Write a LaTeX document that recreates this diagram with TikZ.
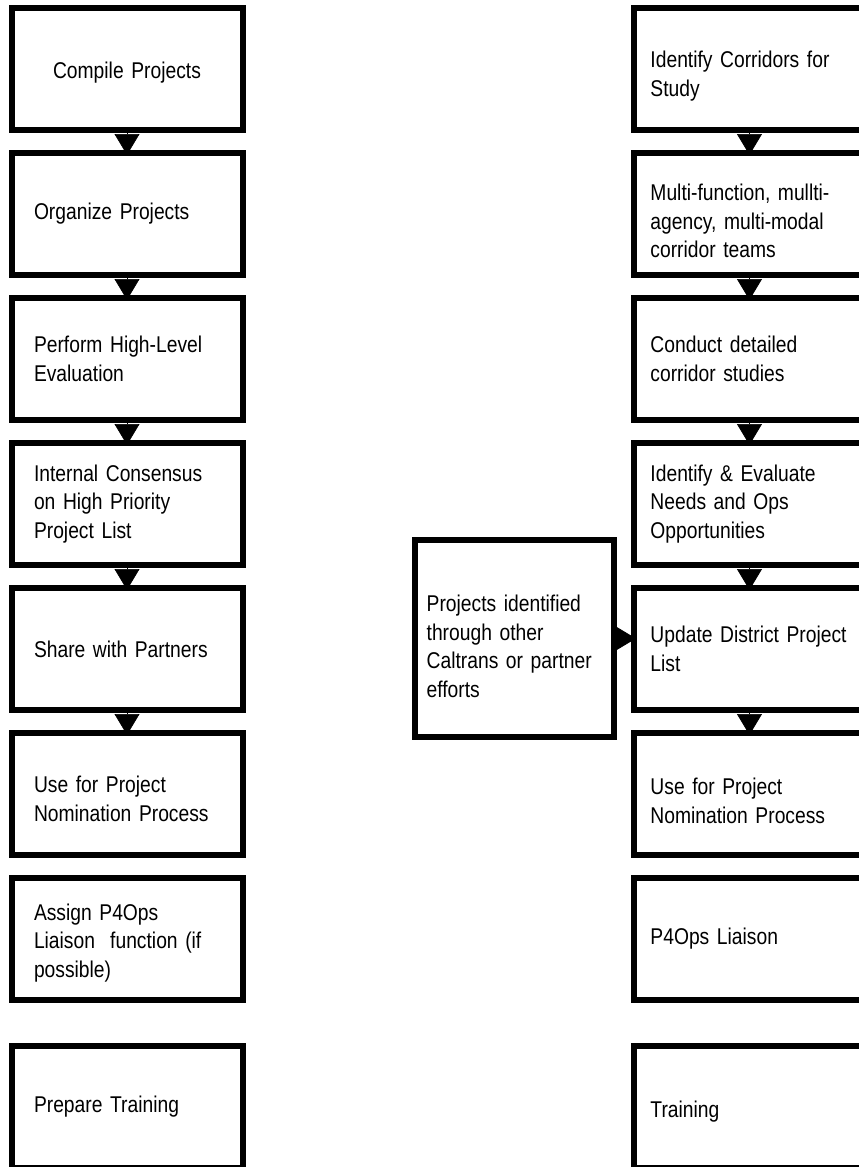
\documentclass[tikz,border=0pt]{standalone}
\usepackage{fontspec}
\setmainfont{Liberation Sans}[FakeStretch=0.845, WordSpace=0.7]
\usepackage{tikz}
\usetikzlibrary{arrows.meta}
\tikzstyle{process} = [rectangle, minimum width=173.25pt, minimum height=91.5pt, text width=139.5pt, align=left, draw=black, line width=4.5pt, font=\fontsize{17.1}{21.4}\selectfont]
\tikzstyle{rprocess} = [process, text width=148.5pt]
\tikzstyle{source} = [process, minimum width=149.25pt, minimum height=147.75pt, text width=131.7pt]
\tikzstyle{arrow} = [line width=0.5pt, -{Triangle[length=15.75pt, width=18.75pt]}, shorten >=-3.75pt]

\begin{document}
\begin{tikzpicture}[x=0.75pt, y=-0.75pt, node distance=108.75pt]
    \useasboundingbox (0,0) rectangle (858,1167);
    % left column
    \node (cmp) [process, align=center] at (127,69) {\rule{0pt}{18.5pt}Compile Projects};
    \node (org) [process, below of=cmp] {Organize Projects};
    \node (eval) [process, below of=org] {Perform High-Level\\Evaluation};
    \node (cons) [process, below of=eval] {Internal Consensus\\on High Priority\\Project List};
    \node (share) [process, below of=cons] {Share with Partners};
    \node (nom) [process, below of=share] {\rule{0pt}{20pt}Use for Project\\Nomination Process};
    \node (liaison) [process, below of=nom] {\rule{0pt}{18.5pt}Assign P4Ops\\Liaison~ function (if\\possible)};
    \node (train) [process, below of=liaison, yshift=-17.25pt] {Prepare Training};
    % right column
    \node (corr) [rprocess, right of=cmp, xshift=358.1pt] {\rule{0pt}{23pt}Identify Corridors for\\Study};
    \node (teams) [rprocess, below of=corr] {\rule{0pt}{23pt}Multi-function, mullti-\\agency, multi-modal\\corridor teams};
    \node (study) [rprocess, below of=teams] {Conduct detailed\\corridor studies};
    \node (needs) [rprocess, below of=study] {Identify \& Evaluate\\Needs and Ops\\Opportunities};
    \node (upd) [rprocess, below of=needs] {\mbox{Update District Project}\\List};
    \node (rnom) [rprocess, below of=upd] {\rule{0pt}{23pt}Use for Project\\Nomination Process};
    \node (rliaison) [rprocess, below of=rnom] {P4Ops Liaison};
    \node (rtrain) [rprocess, below of=rliaison, yshift=-17.25pt] {\rule{0pt}{20pt}Training};
    \node (other) [source, left of=upd, xshift=-67.5pt, yshift=7.875pt] {\rule{0pt}{24.5pt}Projects identified\\through other\\Caltrans or partner\\efforts};

    \draw [arrow] (cmp) -- (org);
    \draw [arrow] (org) -- (eval);
    \draw [arrow] (eval) -- (cons);
    \draw [arrow] (cons) -- (share);
    \draw [arrow] (share) -- (nom);
    \draw [arrow] (corr) -- (teams);
    \draw [arrow] (teams) -- (study);
    \draw [arrow] (study) -- (needs);
    \draw [arrow] (needs) -- (upd);
    \draw [arrow] (upd) -- (rnom);
    \draw [arrow] (other.east) -- (other.east -| upd.west);
\end{tikzpicture}
\end{document}
